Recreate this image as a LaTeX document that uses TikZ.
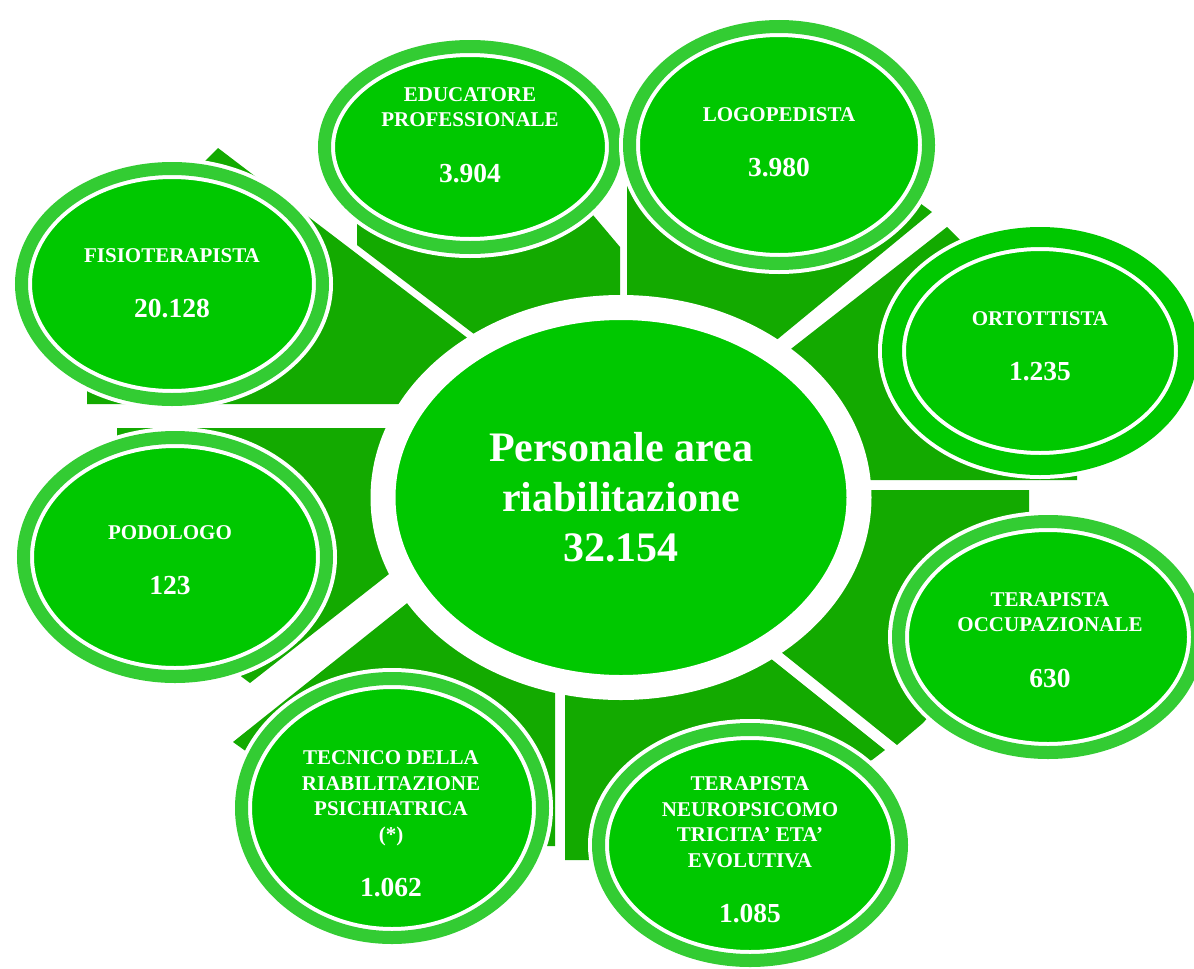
\documentclass[tikz,border=0pt]{standalone}
\usepackage{fontspec}
\setmainfont{Liberation Serif}
\usepackage{xcolor}
\usetikzlibrary{shapes.geometric}
\definecolor{spokeGreen}{RGB}{19,170,0}
\definecolor{satGreen}{RGB}{0,200,0}
\definecolor{ringGreen}{RGB}{51,204,51}
\newcommand{\numsize}{\fontsize{27.5}{30}\selectfont}
\tikzset{
    % Shapes
    spoke/.style={fill=spokeGreen},
    hub/.style={ellipse, fill=satGreen, draw=white, line width=25pt, inner sep=0pt,
                minimum width=476pt, minimum height=380pt},
    sat/.style={ellipse, fill=satGreen, draw=white, line width=4pt, inner sep=0pt,
                double=ringGreen, double distance=13pt},
    % Text
    hubText/.style={text=white, align=center, font=\bfseries\fontsize{42}{50}\selectfont},
    satText/.style={text=white, align=center, inner sep=0pt,
                    font=\bfseries\fontsize{21}{25.5}\selectfont}
}

\begin{document}
\begin{tikzpicture}[x=1pt, y=-1pt]
\useasboundingbox (0,0) rectangle (1194,969);

% dark spokes behind the ellipses
\fill[spoke] (218,148) -- (87,279) -- (87,404) -- (520,404) -- (520,378) -- cycle;
\fill[spoke] (357,200) -- (357,245) -- (520,369) -- (620,369) -- (620,247) -- (582,202) -- cycle;
\fill[spoke] (627,150) -- (627,403) -- (700,403) -- (932,212) -- (905,192) -- (700,150) -- cycle;
\fill[spoke] (947,227) -- (1077,357) -- (1077,480) -- (700,480) -- (700,420) -- cycle;
\fill[spoke] (700,490) -- (1029,490) -- (1029,600) -- (923,723) -- (897,745) -- (700,587) -- cycle;
\fill[spoke] (565,650) -- (565,860) -- (640,860) -- (872,760) -- (885,750) -- (700,602) -- cycle;
\fill[spoke] (233,742) -- (300,790) -- (450,846) -- (555,846) -- (555,620) -- (480,545) -- cycle;
\fill[spoke] (117,428) -- (440,428) -- (440,534) -- (250,683) -- (242,677) -- (117,560) -- cycle;

\node[hub, hubText] (hub) at (621,497.5) {Personale area\\riabilitazione\\32.154};

\node[sat, minimum width=301pt, minimum height=231pt] (fisio) at (172,284) {};
\node[sat, minimum width=291pt, minimum height=201pt] (educ) at (470,147) {};
\node[sat, minimum width=299pt, minimum height=237pt] (logo) at (779,145) {};
\node[sat, double=satGreen, double distance=20pt,
      minimum width=296pt, minimum height=228pt] (orto) at (1040,351) {};
\node[sat, minimum width=303pt, minimum height=239pt] (podo) at (175,557) {};
\node[sat, minimum width=299pt, minimum height=231pt] (occup) at (1048,637) {};
\node[sat, minimum width=301pt, minimum height=259pt] (tecnico) at (392,808) {};
\node[sat, minimum width=303pt, minimum height=231pt] (neuro) at (750,845) {};

\node[satText] (fisio-t) at (172,283) {FISIOTERAPISTA\\[30pt]{\numsize 20.128}};
\node[satText] (educ-t) at (470,135) {EDUCATORE\\PROFESSIONALE\\[30pt]{\numsize 3.904}};
\node[satText] (logo-t) at (779,142) {LOGOPEDISTA\\[30pt]{\numsize 3.980}};
\node[satText] (orto-t) at (1040,346) {ORTOTTISTA\\[30pt]{\numsize 1.235}};
\node[satText] (podo-t) at (170,560) {PODOLOGO\\[30pt]{\numsize 123}};
\node[satText] (occup-t) at (1050,640) {TERAPISTA\\OCCUPAZIONALE\\[30pt]{\numsize 630}};
\node[satText] (tecnico-t) at (391,824) {TECNICO DELLA\\RIABILITAZIONE\\PSICHIATRICA\\(*)\\[30pt]{\numsize 1.062}};
\node[satText] (neuro-t) at (750,850) {TERAPISTA\\NEUROPSICOMO\\TRICITA’ ETA’\\EVOLUTIVA\\[30pt]{\numsize 1.085}};

\end{tikzpicture}
\end{document}
